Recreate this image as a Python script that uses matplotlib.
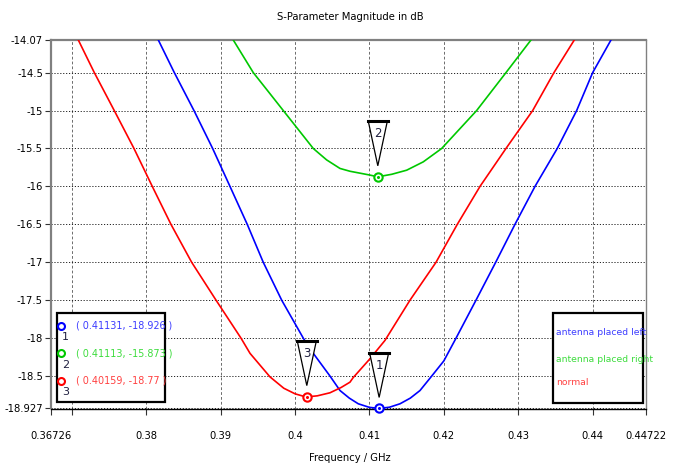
import matplotlib
matplotlib.use("Agg")
import matplotlib.pyplot as plt
from matplotlib.patches import Rectangle, Polygon
from matplotlib.lines import Line2D
import matplotlib.transforms as mtransforms

# ---------------- data ----------------
f_normal = [0.37089, 0.37304, 0.37572, 0.37837, 0.38083, 0.38334, 0.38612, 0.38940,
            0.39275, 0.39396, 0.39664, 0.39850, 0.40000, 0.40148, 0.40300, 0.40470,
            0.40620, 0.40739, 0.40782, 0.41000, 0.41209, 0.41545, 0.41895, 0.42181,
            0.42486, 0.42835, 0.43194, 0.43480, 0.43753]
s_normal = [-14.07, -14.5, -15.0, -15.5, -16.0, -16.5, -17.0, -17.5,
            -18.0, -18.2, -18.51, -18.66, -18.733, -18.775, -18.76, -18.72,
            -18.65, -18.58, -18.52, -18.28, -18.03, -17.5, -17.0, -16.5,
            -16.0, -15.5, -15.0, -14.5, -14.07]

f_left = [0.38164, 0.38379, 0.38643, 0.38894, 0.39127, 0.39359, 0.39574, 0.39822,
          0.40112, 0.40246, 0.40471, 0.40605, 0.40730, 0.40851, 0.41000, 0.41131,
          0.41270, 0.41411, 0.41550, 0.41680, 0.41837, 0.42000, 0.42164, 0.42432,
          0.42697, 0.42956, 0.43225, 0.43524, 0.43785, 0.44000, 0.44246]
s_left = [-14.07, -14.5, -15.0, -15.5, -16.0, -16.5, -17.0, -17.5,
          -18.0, -18.2, -18.5, -18.69, -18.79, -18.865, -18.912, -18.926,
          -18.91, -18.865, -18.79, -18.69, -18.5, -18.30, -18.0, -17.5,
          -17.0, -16.5, -16.0, -15.5, -15.0, -14.5, -14.07]

f_right = [0.39171, 0.39440, 0.39642, 0.39843, 0.40246, 0.40425, 0.40605, 0.40739,
           0.40995, 0.41113, 0.41300, 0.41501, 0.41724, 0.41971, 0.42441, 0.42835,
           0.43171]
s_right = [-14.07, -14.5, -14.75, -15.0, -15.5, -15.65, -15.763, -15.80,
           -15.848, -15.873, -15.84, -15.786, -15.676, -15.5, -15.0, -14.5,
           -14.07]

series_names = ["antenna placed left", "antenna placed right", "normal"]
series_colors = ["#0000ff", "#00c800", "#ff0000"]
text_colors = ["#3c3cff", "#3cdc3c", "#ff4040"]

# markers
marker_f = [0.41131, 0.41113, 0.40159]
marker_s = [-18.926, -15.873, -18.77]
marker_ids = ["1", "2", "3"]
marker_text = ["( 0.41131, -18.926 )", "( 0.41113, -15.873 )", "( 0.40159, -18.77 )"]

xtick_vals = [0.36726, 0.37, 0.38, 0.39, 0.40, 0.41, 0.42, 0.43, 0.44, 0.44722]
xtick_labels = ["0.36726", "", "0.38", "0.39", "0.4", "0.41", "0.42", "0.43", "0.44", "0.44722"]
ytick_vals = [-14.07, -14.5, -15.0, -15.5, -16.0, -16.5, -17.0, -17.5, -18.0, -18.5, -18.927]
ytick_labels = ["-14.07", "-14.5", "-15", "-15.5", "-16", "-16.5", "-17", "-17.5", "-18", "-18.5", "-18.927"]

plt.rcParams["font.family"] = ["DejaVu Sans"]

W, H = 676, 467
fig = plt.figure(figsize=(W / 100, H / 100), dpi=100)
fig.patch.set_facecolor("white")


def fx(x):
    return x / W


def fy(y):
    return 1 - y / H


left, right, top, bottom = 51.3, 646.4, 40, 408.5
ax = fig.add_axes([fx(left), fy(bottom), fx(right) - fx(left), fy(top) - fy(bottom)])
ax.set_xlim(0.36726, 0.44722)
ax.set_ylim(-18.927, -14.07)

ax.plot(f_left, s_left, color=series_colors[0], lw=1.2, zorder=3)
ax.plot(f_right, s_right, color=series_colors[1], lw=1.2, zorder=3)
ax.plot(f_normal, s_normal, color=series_colors[2], lw=1.2, zorder=3)

ax.set_xticks(xtick_vals)
ax.set_xticklabels(xtick_labels)
ax.set_yticks(ytick_vals)
ax.set_yticklabels(ytick_labels)
ax.tick_params(axis="both", direction="out", length=4, width=0.8, color="#333333",
               labelsize=7.2, pad=2)
ax.tick_params(axis="x", pad=12)

ax.grid(axis="x", color="#333333", linestyle=(0, (4, 3)), linewidth=0.5)
ax.grid(axis="y", color="#222222", linestyle=(0, (1.2, 1.8)), linewidth=0.7)

for side in ["top", "right", "left"]:
    ax.spines[side].set_color("#808080")
ax.spines["top"].set_linewidth(1.6)
ax.spines["left"].set_linewidth(1.6)
ax.spines["right"].set_linewidth(1.0)
ax.spines["bottom"].set_color("#000000")
ax.spines["bottom"].set_linewidth(1.0)

fig.text(fx(350), fy(17), "S-Parameter Magnitude in dB", ha="center", va="center",
         fontsize=7.2)
fig.text(fx(350), fy(458), "Frequency / GHz", ha="center", va="center",
         fontsize=7.2)

# ---------------- markers with flags ----------------
for mf, ms, mid, ci in zip(marker_f, marker_s, marker_ids, [0, 1, 2]):
    ax.plot([mf], [ms], marker="o", ms=6, mfc="white", mec=series_colors[ci], mew=1.5,
            zorder=6, clip_on=False)
    ax.plot([mf], [ms], marker="o", ms=1.2, color=series_colors[ci], zorder=7, clip_on=False)
    tr = fig.dpi_scale_trans + mtransforms.ScaledTranslation(mf, ms, ax.transData)
    tri = Polygon([[0, 0.11], [-0.095, 0.555], [0.095, 0.555]], closed=True,
                  facecolor="white", edgecolor="black", lw=0.9, transform=tr, zorder=8,
                  clip_on=False)
    ax.add_patch(tri)
    ax.add_line(Line2D([-0.1, 0.1], [0.555, 0.555], color="black", lw=2.2, transform=tr,
                       zorder=9, clip_on=False))
    ax.text(0, 0.43, mid, transform=tr, ha="center", va="center", fontsize=8.5,
            color="#202040", zorder=10, clip_on=False)

# ---------------- marker table box ----------------
fig.patches.append(Rectangle((fx(56.7), fy(401.7)), fx(165) - fx(56.7), fy(312.7) - fy(401.7),
                             transform=fig.transFigure, facecolor="white", edgecolor="black",
                             lw=1.6, zorder=20))
row_y = [325.7, 353.0, 380.7]
for i, mid in enumerate(marker_ids):
    y = row_y[i]
    fig.add_artist(Line2D([fx(61)], [fy(y)], marker="o", ms=5, mfc="white",
                          mec=series_colors[i], mew=1.5, transform=fig.transFigure, zorder=21))
    fig.text(fx(65.5), fy(y + 11.5), mid, ha="center", va="center", fontsize=8,
             color="#202040", zorder=21)
    fig.text(fx(76.5), fy(y), marker_text[i],
             ha="left", va="center", fontsize=6.9, color=text_colors[i], zorder=21)

# ---------------- legend box ----------------
fig.patches.append(Rectangle((fx(552.7), fy(403.3)), fx(643) - fx(552.7), fy(313.3) - fy(403.3),
                             transform=fig.transFigure, facecolor="white", edgecolor="black",
                             lw=1.6, zorder=20))
leg_y = [332.7, 359.3, 382.7]
for i, name in enumerate(series_names):
    fig.text(fx(556), fy(leg_y[i]), name, ha="left", va="center", fontsize=6.7,
             color=text_colors[i], zorder=21)

fig.savefig("out.png", dpi=100, facecolor="white")
